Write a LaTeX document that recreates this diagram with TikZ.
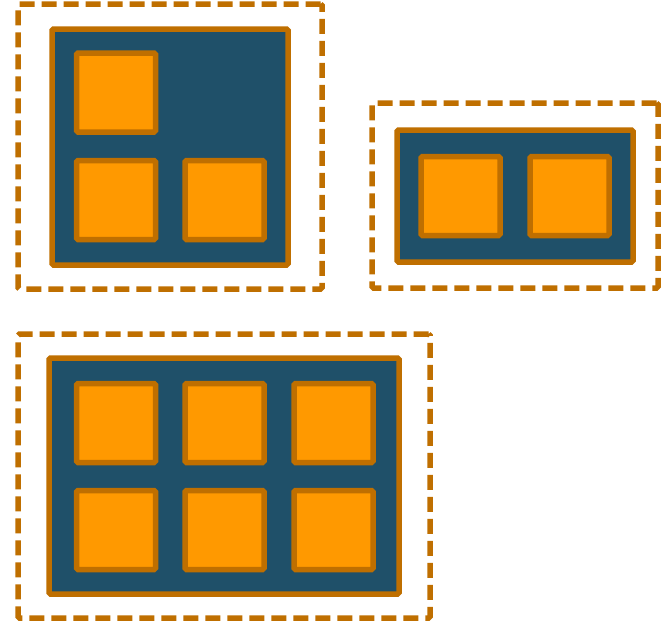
\documentclass[tikz,border=0pt]{standalone}
\usepackage{tikz}
\usetikzlibrary{positioning}

\definecolor{rim}{HTML}{BF6F00}
\definecolor{boardblue}{HTML}{1F5069}
\definecolor{cellorange}{HTML}{FF9900}

\begin{document}
\begin{tikzpicture}[
        x=1pt,
        y=-1pt,
        region/.style={
            rectangle,
            draw=rim,
            line width=5.5pt,
            dash pattern=on 15pt off 7pt,
            rounded corners=1.5pt,
            inner sep=0pt
        },
        board/.style={
            rectangle,
            draw=rim,
            fill=boardblue,
            line width=5.5pt,
            rounded corners=1.5pt,
            inner sep=0pt
        },
        cell/.style={
            rectangle,
            draw=rim,
            fill=cellorange,
            line width=5.5pt,
            rounded corners=1.5pt,
            inner sep=0pt,
            minimum width=79pt,
            minimum height=79pt
        }
    ]

    \useasboundingbox (0,0) rectangle (670,622);

    % Dashed regions
    \node[region, minimum width=304pt, minimum height=285pt] (r1) at (170,146.5) {};
    \node[region, minimum width=286pt, minimum height=185pt] (r2) at (515,195.5) {};
    \node[region, minimum width=412pt, minimum height=284pt] (r3) at (224,476) {};

    % Boards
    \node[board, minimum width=236pt, minimum height=236pt] (b1) at (170,147) {};
    \node[board, minimum width=236pt, minimum height=132pt] (b2) at (515,196) {};
    \node[board, minimum width=350pt, minimum height=236pt] (b3) at (224,476) {};

    % Cells of the first board
    \node[cell] (c11) at (116,92.5) {};
    \node[cell] (c12) at (116,200) {};
    \node[cell] (c13) at (224.5,200) {};

    % Cells of the second board
    \node[cell] (c21) at (460.5,196) {};
    \node[cell] (c22) at (569.5,196) {};

    % Cells of the third board
    \foreach \i/\x in {1/116,2/224.5,3/333.5}
        \foreach \j/\y in {1/423,2/530}
            \node[cell] (c3\j\i) at (\x,\y) {};

\end{tikzpicture}
\end{document}
